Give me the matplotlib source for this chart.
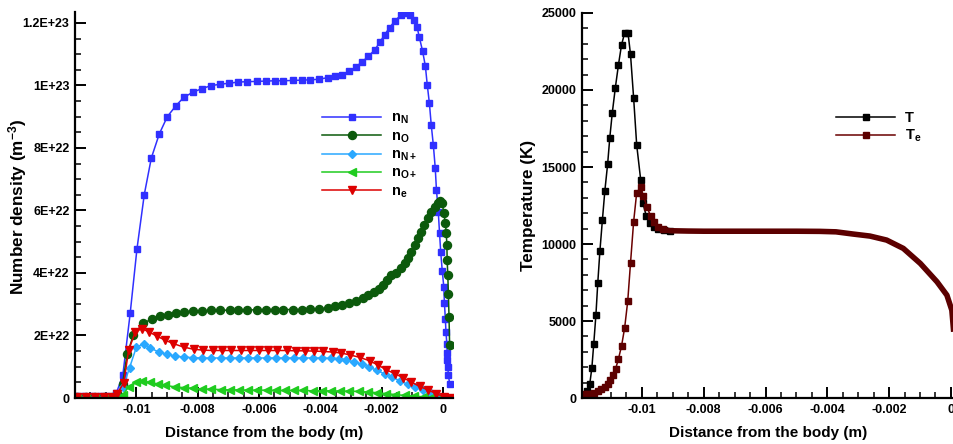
import matplotlib
matplotlib.use("Agg")
import matplotlib.pyplot as plt
import numpy as np
from matplotlib.ticker import FixedLocator, MultipleLocator, FuncFormatter

plt.rcParams["font.family"] = ["Liberation Sans", "DejaVu Sans"]
plt.rcParams["font.weight"] = "bold"
plt.rcParams["mathtext.fontset"] = "custom"
plt.rcParams["mathtext.rm"] = "Liberation Sans:bold"
plt.rcParams["mathtext.it"] = "Liberation Sans:bold"
plt.rcParams["mathtext.bf"] = "Liberation Sans:bold"

# ---- number densities (x in mm, n in 1e22 m^-3) ----
nN_x = [-11.95, -11.7, -11.45, -11.2, -10.95, -10.65, -10.44, -10.20, -9.98, -9.74,
        -9.51, -9.25, -8.99, -8.71, -8.45, -8.16, -7.86, -7.57, -7.27, -6.97,
        -6.67, -6.38, -6.07, -5.78, -5.49, -5.20, -4.90, -4.61, -4.32, -4.03,
        -3.76, -3.51, -3.28, -3.07, -2.85, -2.64, -2.43, -2.22, -2.06, -1.90,
        -1.74, -1.56, -1.36, -1.19, -1.08, -0.95, -0.84, -0.77, -0.66, -0.57,
        -0.51, -0.44, -0.38, -0.31, -0.25, -0.21, -0.15, -0.11, -0.07, -0.02,
        0.03, 0.05, 0.08, 0.10, 0.13, 0.14, 0.15, 0.16, 0.18, 0.22]
nN_y = [0.05, 0.05, 0.05, 0.05, 0.05, 0.16, 0.73, 2.71, 4.76, 6.51,
        7.68, 8.45, 9.00, 9.35, 9.62, 9.78, 9.90, 9.99, 10.04, 10.07,
        10.11, 10.12, 10.13, 10.14, 10.15, 10.15, 10.16, 10.17, 10.18, 10.20,
        10.25, 10.29, 10.35, 10.45, 10.58, 10.75, 10.93, 11.14, 11.38, 11.62,
        11.85, 12.07, 12.26, 12.32, 12.26, 12.10, 11.86, 11.55, 11.09, 10.61,
        10.02, 9.43, 8.74, 8.08, 7.37, 6.66, 5.96, 5.29, 4.66, 4.06,
        3.56, 3.04, 2.54, 2.12, 1.72, 1.45, 1.21, 0.99, 0.73, 0.46]

nO_x = [-11.95, -11.65, -11.35, -11.05, -10.8, -10.6, -10.45, -10.3, -10.1, -9.78,
        -9.49, -9.24, -8.98, -8.71, -8.44, -8.16, -7.85, -7.56, -7.27, -6.96,
        -6.67, -6.38, -6.07, -5.78, -5.49, -5.20, -4.90, -4.61, -4.32, -4.03,
        -3.76, -3.52, -3.29, -3.07, -2.84, -2.62, -2.44, -2.26, -2.09, -1.95,
        -1.81, -1.68, -1.54, -1.36, -1.25, -1.14, -1.03, -0.92, -0.81, -0.70,
        -0.60, -0.49, -0.38, -0.27, -0.16, -0.09, -0.02, 0.03, 0.08, 0.11,
        0.13, 0.14, 0.16, 0.18, 0.20, 0.22]
nO_y = [0.03, 0.03, 0.03, 0.03, 0.04, 0.10, 0.45, 1.40, 2.00, 2.40,
        2.52, 2.62, 2.67, 2.72, 2.76, 2.78, 2.79, 2.80, 2.81, 2.81,
        2.81, 2.82, 2.82, 2.83, 2.83, 2.83, 2.83, 2.83, 2.84, 2.85,
        2.88, 2.93, 2.97, 3.03, 3.10, 3.19, 3.29, 3.39, 3.50, 3.63,
        3.76, 3.92, 4.01, 4.15, 4.31, 4.49, 4.68, 4.89, 5.11, 5.32,
        5.53, 5.75, 5.94, 6.12, 6.25, 6.30, 6.23, 5.91, 5.59, 5.29,
        4.89, 4.41, 3.93, 3.34, 2.60, 1.69]

nNp_x = [-11.95, -11.65, -11.35, -11.05, -10.8, -10.6, -10.43, -10.22, -10.0, -9.76,
         -9.54, -9.27, -9.0, -8.73, -8.45, -8.15, -7.85, -7.55, -7.25, -6.95,
         -6.65, -6.35, -6.05, -5.75, -5.45, -5.15, -4.85, -4.55, -4.25, -3.95,
         -3.65, -3.4, -3.15, -2.9, -2.65, -2.4, -2.15, -1.9, -1.65, -1.4,
         -1.15, -0.9, -0.65, -0.4, -0.15, 0.1, 0.25]
nNp_y = [0.02, 0.02, 0.02, 0.02, 0.02, 0.05, 0.35, 0.97, 1.62, 1.74,
         1.60, 1.47, 1.40, 1.34, 1.31, 1.29, 1.28, 1.28, 1.28, 1.28,
         1.28, 1.28, 1.28, 1.28, 1.28, 1.28, 1.28, 1.28, 1.28, 1.28,
         1.27, 1.26, 1.22, 1.16, 1.08, 0.99, 0.88, 0.77, 0.66, 0.55,
         0.44, 0.34, 0.24, 0.15, 0.07, 0.02, 0.01]

nOp_x = [-11.95, -11.65, -11.35, -11.05, -10.8, -10.6, -10.45, -10.25, -10.0, -9.8,
         -9.55, -9.3, -9.05, -8.75, -8.45, -8.15, -7.85, -7.55, -7.25, -6.95,
         -6.65, -6.35, -6.05, -5.75, -5.45, -5.15, -4.85, -4.55, -4.25, -3.95,
         -3.65, -3.35, -3.05, -2.75, -2.45, -2.15, -1.85, -1.55, -1.25, -0.95,
         -0.65, -0.35, -0.05, 0.2]
nOp_y = [0.0, 0.0, 0.0, 0.0, 0.0, 0.01, 0.10, 0.35, 0.50, 0.54,
         0.50, 0.45, 0.40, 0.36, 0.33, 0.31, 0.29, 0.28, 0.27, 0.26,
         0.26, 0.25, 0.25, 0.25, 0.24, 0.24, 0.24, 0.24, 0.23, 0.23,
         0.23, 0.22, 0.22, 0.21, 0.19, 0.17, 0.14, 0.11, 0.08, 0.06,
         0.04, 0.02, 0.01, 0.0]

ne_x = [-11.95, -11.65, -11.35, -11.05, -10.8, -10.63, -10.41, -10.25, -10.03, -9.82,
        -9.60, -9.33, -9.06, -8.79, -8.46, -8.13, -7.81, -7.5, -7.2, -6.9,
        -6.6, -6.3, -6.0, -5.7, -5.4, -5.1, -4.8, -4.5, -4.2, -3.9,
        -3.6, -3.32, -3.04, -2.71, -2.39, -2.11, -1.84, -1.57, -1.30, -1.03,
        -0.76, -0.49, -0.22, 0.05, 0.22]
ne_y = [0.02, 0.02, 0.02, 0.02, 0.03, 0.14, 0.48, 1.53, 2.12, 2.22,
        2.12, 1.98, 1.85, 1.74, 1.63, 1.56, 1.53, 1.52, 1.52, 1.52,
        1.52, 1.52, 1.52, 1.52, 1.52, 1.52, 1.51, 1.51, 1.50, 1.49,
        1.47, 1.44, 1.38, 1.30, 1.19, 1.05, 0.90, 0.78, 0.65, 0.51,
        0.37, 0.26, 0.14, 0.03, 0.01]

# ---- temperatures (x in mm, K) ----
T_x = [-11.91, -11.77, -11.69, -11.62, -11.56, -11.49, -11.43, -11.36, -11.28, -11.20,
       -11.11, -11.04, -10.96, -10.86, -10.76, -10.66, -10.56, -10.45, -10.37, -10.27,
       -10.17, -10.04, -9.97, -9.86, -9.75, -9.62, -9.48, -9.3, -9.1]
T_y = [217, 455, 889, 1973, 3512, 5377, 7458, 9561, 11556, 13464,
       15198, 16910, 18515, 20162, 21636, 22937, 23696, 23696, 22308, 19512,
       16434, 14157, 12683, 11816, 11382, 11122, 10970, 10890, 10860]

Te_x = [-11.91, -11.86, -11.75, -11.64, -11.54, -11.43, -11.32, -11.21, -11.10, -11.03,
        -10.94, -10.85, -10.76, -10.66, -10.56, -10.46, -10.37, -10.27, -10.17, -10.04,
        -9.95, -9.83, -9.72, -9.61, -9.48, -9.32]
Te_y = [217, 238, 238, 282, 347, 434, 564, 715, 889, 1149,
        1518, 1908, 2537, 3382, 4553, 6287, 8759, 11425, 13333, 13680,
        13116, 12379, 11816, 11447, 11122, 10948]
# downstream of -0.0093 m the Te symbols are packed into a solid band
Te_band_x = [-9.32, -9.1, -8.5, -8.0, -7.0, -6.0, -5.0, -4.24, -3.72, -3.16,
             -2.62, -2.08, -1.54, -0.99, -0.45, -0.13, 0.03, 0.09]
Te_band_y = [10948, 10862, 10840, 10830, 10830, 10830, 10830, 10820, 10790, 10645,
             10515, 10255, 9713, 8737, 7545, 6678, 5702, 4300]

nden_ticks = [0, 2e22, 4e22, 6e22, 8e22, 1e23, 1.2e23]
x_ticks = [-0.01, -0.008, -0.006, -0.004, -0.002, 0.0]
temp_ticks = [0, 5000, 10000, 15000, 20000, 25000]

W, H = 954, 444
fig = plt.figure(figsize=(W / 100, H / 100), dpi=100)
ax1 = fig.add_axes([75 / W, 46 / H, 378 / W, 386 / H])
ax2 = fig.add_axes([582 / W, 46 / H, 372 / W, 385 / H])

mm = 1e-3
e22 = 1e22
lw = 1.1
series = [
    (nN_x, nN_y, "#3030ff", "s", 5.0, r"$\mathrm{n_{N}}$"),
    (nO_x, nO_y, "#0c5a0c", "o", 5.8, r"$\mathrm{n_{O}}$"),
    (nNp_x, nNp_y, "#2aa8ff", "D", 4.2, r"$\mathrm{n_{N+}}$"),
    (nOp_x, nOp_y, "#1fcc1f", "<", 5.2, r"$\mathrm{n_{O+}}$"),
    (ne_x, ne_y, "#dd0000", "v", 5.2, r"$\mathrm{n_{e}}$"),
]
for xs, ys, c, m, ms, lab in series:
    ax1.plot(np.array(xs) * mm, np.array(ys) * e22, color=c, marker=m, ms=ms,
             mec=c, mfc=c, lw=lw, label=lab)

ax2.plot(np.array(T_x) * mm, T_y, color="black", marker="s", ms=4.3, lw=lw,
         label="T")
te_col = "#5c0000"
ax2.plot(np.array(Te_x) * mm, Te_y, color="#6a0000", marker="s", ms=4.3,
         mfc=te_col, mec=te_col, lw=lw, label=r"$\mathrm{T_{e}}$")
ax2.plot(np.array(Te_band_x) * mm, Te_band_y, color=te_col, lw=4.0,
         solid_capstyle="butt")

ax1.set_xlim(-0.012, 0.00033)
ax1.set_ylim(0, 1.235e23)
ax2.set_xlim(-0.01194, 0.0001)
ax2.set_ylim(0, 25000)

for ax in (ax1, ax2):
    for s in ("top", "right"):
        ax.spines[s].set_visible(False)
    for s in ("left", "bottom"):
        ax.spines[s].set_linewidth(1.6)
    ax.xaxis.set_major_locator(FixedLocator(x_ticks))
    ax.xaxis.set_minor_locator(MultipleLocator(0.0005))
    ax.xaxis.set_major_formatter(FuncFormatter(lambda v, p: f"{v:g}"))
    ax.tick_params(which="major", direction="in", length=8, width=1.4,
                   labelsize=9, pad=4)
    ax.tick_params(which="minor", direction="in", length=4.5, width=1.1)
    ax.tick_params(axis="x", which="both", top=False)
    ax.tick_params(axis="y", which="both", right=False)
    ax.set_xlabel("Distance from the body (m)", fontsize=11, fontweight="bold")
    ax.xaxis.set_label_coords(0.5, -0.072)

ax1.yaxis.set_major_locator(FixedLocator(nden_ticks))
ax1.yaxis.set_minor_locator(MultipleLocator(5e21))
ax1.yaxis.set_major_formatter(FuncFormatter(lambda v, p: "0" if v == 0 else f"{v:G}"))
ax1.set_ylabel(r"Number density (m$^{\mathbf{-3}}$)", fontsize=12.3, fontweight="bold")
ax1.yaxis.set_label_coords(-0.122, 0.495)

ax2.yaxis.set_major_locator(FixedLocator(temp_ticks))
ax2.yaxis.set_minor_locator(MultipleLocator(1000))
ax2.set_ylabel("Temperature (K)", fontsize=12.3, fontweight="bold")
ax2.yaxis.set_label_coords(-0.124, 0.5)

leg_kw = dict(loc="upper left", frameon=False, fontsize=10.5, borderpad=0,
              borderaxespad=0, handlelength=4.05, handletextpad=0.68,
              labelspacing=0.2)
ax1.legend(bbox_to_anchor=(322 / W, 1 - 111 / H), bbox_transform=fig.transFigure,
           **leg_kw)
ax2.legend(bbox_to_anchor=(836 / W, 1 - 111 / H), bbox_transform=fig.transFigure,
           **leg_kw)

fig.savefig("out.png", dpi=100)
